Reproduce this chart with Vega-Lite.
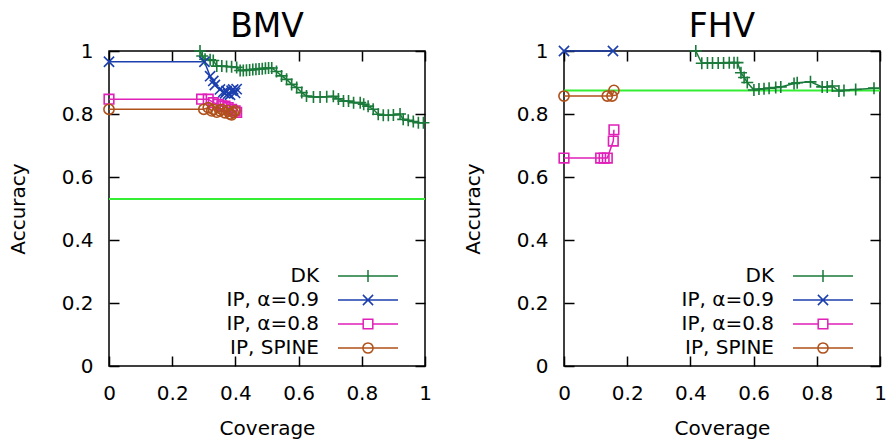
{
  "$schema": "https://vega.github.io/schema/vega-lite/v6.json",
  "background": "white",
  "padding": {"left": 7, "top": 10, "right": 3, "bottom": 5},
  "spacing": 28,
  "resolve": {"scale": {"color": "independent"}},
  "config": {
    "view": {"stroke": "black", "strokeWidth": 1.5},
    "font": "DejaVu Sans",
    "title": {"font": "DejaVu Sans", "fontSize": 33, "fontWeight": "normal", "color": "black", "anchor": "middle", "offset": -3, "baseline": "alphabetic"},
    "axis": {"labelFont": "DejaVu Sans", "labelFontSize": 20, "titleFont": "DejaVu Sans", "titleFontSize": 20, "titleFontWeight": "normal", "labelColor": "black", "titleColor": "black", "tickColor": "black", "tickWidth": 1.5, "tickSize": -10, "domain": false, "grid": false, "labelFlush": false, "labelOverlap": false},
    "legend": {"labelFont": "DejaVu Sans", "labelFontSize": 20, "labelColor": "black", "symbolSize": 144, "symbolStrokeWidth": 1.5, "rowPadding": 4, "padding": 0, "labelAlign": "right", "labelOffset": -59, "titlePadding": 0}
  },
  "datasets": {
    "pts": [
      {"p":"BMV","s":"DK","o":1,"x":0.288,"y":1.0},
      {"p":"BMV","s":"DK","o":2,"x":0.295,"y":0.984},
      {"p":"BMV","s":"DK","o":3,"x":0.304,"y":0.974},
      {"p":"BMV","s":"DK","o":4,"x":0.32,"y":0.972},
      {"p":"BMV","s":"DK","o":5,"x":0.33,"y":0.97},
      {"p":"BMV","s":"DK","o":6,"x":0.341,"y":0.952},
      {"p":"BMV","s":"DK","o":7,"x":0.357,"y":0.952},
      {"p":"BMV","s":"DK","o":8,"x":0.372,"y":0.951},
      {"p":"BMV","s":"DK","o":9,"x":0.388,"y":0.95},
      {"p":"BMV","s":"DK","o":10,"x":0.404,"y":0.948},
      {"p":"BMV","s":"DK","o":11,"x":0.415,"y":0.938},
      {"p":"BMV","s":"DK","o":12,"x":0.425,"y":0.938},
      {"p":"BMV","s":"DK","o":13,"x":0.435,"y":0.939},
      {"p":"BMV","s":"DK","o":14,"x":0.445,"y":0.94},
      {"p":"BMV","s":"DK","o":15,"x":0.455,"y":0.941},
      {"p":"BMV","s":"DK","o":16,"x":0.465,"y":0.942},
      {"p":"BMV","s":"DK","o":17,"x":0.475,"y":0.943},
      {"p":"BMV","s":"DK","o":18,"x":0.485,"y":0.944},
      {"p":"BMV","s":"DK","o":19,"x":0.495,"y":0.945},
      {"p":"BMV","s":"DK","o":20,"x":0.505,"y":0.946},
      {"p":"BMV","s":"DK","o":21,"x":0.515,"y":0.946},
      {"p":"BMV","s":"DK","o":22,"x":0.53,"y":0.935},
      {"p":"BMV","s":"DK","o":23,"x":0.546,"y":0.921},
      {"p":"BMV","s":"DK","o":24,"x":0.562,"y":0.91},
      {"p":"BMV","s":"DK","o":25,"x":0.578,"y":0.894},
      {"p":"BMV","s":"DK","o":26,"x":0.594,"y":0.884},
      {"p":"BMV","s":"DK","o":27,"x":0.61,"y":0.868},
      {"p":"BMV","s":"DK","o":28,"x":0.625,"y":0.857},
      {"p":"BMV","s":"DK","o":29,"x":0.647,"y":0.854},
      {"p":"BMV","s":"DK","o":30,"x":0.668,"y":0.854},
      {"p":"BMV","s":"DK","o":31,"x":0.689,"y":0.855},
      {"p":"BMV","s":"DK","o":32,"x":0.71,"y":0.856},
      {"p":"BMV","s":"DK","o":33,"x":0.726,"y":0.848},
      {"p":"BMV","s":"DK","o":34,"x":0.742,"y":0.841},
      {"p":"BMV","s":"DK","o":35,"x":0.758,"y":0.841},
      {"p":"BMV","s":"DK","o":36,"x":0.774,"y":0.836},
      {"p":"BMV","s":"DK","o":37,"x":0.795,"y":0.836},
      {"p":"BMV","s":"DK","o":38,"x":0.806,"y":0.831},
      {"p":"BMV","s":"DK","o":39,"x":0.82,"y":0.825},
      {"p":"BMV","s":"DK","o":40,"x":0.836,"y":0.815},
      {"p":"BMV","s":"DK","o":41,"x":0.852,"y":0.799},
      {"p":"BMV","s":"DK","o":42,"x":0.868,"y":0.796},
      {"p":"BMV","s":"DK","o":43,"x":0.884,"y":0.796},
      {"p":"BMV","s":"DK","o":44,"x":0.9,"y":0.797},
      {"p":"BMV","s":"DK","o":45,"x":0.921,"y":0.8},
      {"p":"BMV","s":"DK","o":46,"x":0.931,"y":0.783},
      {"p":"BMV","s":"DK","o":47,"x":0.947,"y":0.78},
      {"p":"BMV","s":"DK","o":48,"x":0.963,"y":0.776},
      {"p":"BMV","s":"DK","o":49,"x":0.979,"y":0.772},
      {"p":"BMV","s":"DK","o":50,"x":0.995,"y":0.772},
      {"p":"BMV","s":"IP, α=0.9","o":1,"x":0.0,"y":0.966},
      {"p":"BMV","s":"IP, α=0.9","o":2,"x":0.302,"y":0.966},
      {"p":"BMV","s":"IP, α=0.9","o":3,"x":0.32,"y":0.92},
      {"p":"BMV","s":"IP, α=0.9","o":4,"x":0.33,"y":0.905},
      {"p":"BMV","s":"IP, α=0.9","o":5,"x":0.335,"y":0.892},
      {"p":"BMV","s":"IP, α=0.9","o":6,"x":0.351,"y":0.878},
      {"p":"BMV","s":"IP, α=0.9","o":7,"x":0.362,"y":0.87},
      {"p":"BMV","s":"IP, α=0.9","o":8,"x":0.367,"y":0.866},
      {"p":"BMV","s":"IP, α=0.9","o":9,"x":0.372,"y":0.873},
      {"p":"BMV","s":"IP, α=0.9","o":10,"x":0.377,"y":0.864},
      {"p":"BMV","s":"IP, α=0.9","o":11,"x":0.383,"y":0.861},
      {"p":"BMV","s":"IP, α=0.9","o":12,"x":0.388,"y":0.874},
      {"p":"BMV","s":"IP, α=0.9","o":13,"x":0.393,"y":0.878},
      {"p":"BMV","s":"IP, α=0.9","o":14,"x":0.399,"y":0.867},
      {"p":"BMV","s":"IP, α=0.9","o":15,"x":0.404,"y":0.879},
      {"p":"BMV","s":"IP, α=0.8","o":1,"x":0.0,"y":0.847},
      {"p":"BMV","s":"IP, α=0.8","o":2,"x":0.293,"y":0.847},
      {"p":"BMV","s":"IP, α=0.8","o":3,"x":0.314,"y":0.847},
      {"p":"BMV","s":"IP, α=0.8","o":4,"x":0.33,"y":0.836},
      {"p":"BMV","s":"IP, α=0.8","o":5,"x":0.346,"y":0.831},
      {"p":"BMV","s":"IP, α=0.8","o":6,"x":0.357,"y":0.826},
      {"p":"BMV","s":"IP, α=0.8","o":7,"x":0.367,"y":0.825},
      {"p":"BMV","s":"IP, α=0.8","o":8,"x":0.377,"y":0.82},
      {"p":"BMV","s":"IP, α=0.8","o":9,"x":0.388,"y":0.815},
      {"p":"BMV","s":"IP, α=0.8","o":10,"x":0.399,"y":0.81},
      {"p":"BMV","s":"IP, α=0.8","o":11,"x":0.404,"y":0.805},
      {"p":"BMV","s":"IP, SPINE","o":1,"x":0.0,"y":0.815},
      {"p":"BMV","s":"IP, SPINE","o":2,"x":0.3,"y":0.815},
      {"p":"BMV","s":"IP, SPINE","o":3,"x":0.314,"y":0.82},
      {"p":"BMV","s":"IP, SPINE","o":4,"x":0.325,"y":0.81},
      {"p":"BMV","s":"IP, SPINE","o":5,"x":0.33,"y":0.815},
      {"p":"BMV","s":"IP, SPINE","o":6,"x":0.341,"y":0.806},
      {"p":"BMV","s":"IP, SPINE","o":7,"x":0.351,"y":0.81},
      {"p":"BMV","s":"IP, SPINE","o":8,"x":0.357,"y":0.815},
      {"p":"BMV","s":"IP, SPINE","o":9,"x":0.367,"y":0.804},
      {"p":"BMV","s":"IP, SPINE","o":10,"x":0.377,"y":0.81},
      {"p":"BMV","s":"IP, SPINE","o":11,"x":0.383,"y":0.8},
      {"p":"BMV","s":"IP, SPINE","o":12,"x":0.388,"y":0.797},
      {"p":"BMV","s":"IP, SPINE","o":13,"x":0.393,"y":0.805},
      {"p":"BMV","s":"IP, SPINE","o":14,"x":0.399,"y":0.81},
      {"p":"FHV","s":"DK","o":1,"x":0.417,"y":1.0},
      {"p":"FHV","s":"DK","o":2,"x":0.436,"y":0.961},
      {"p":"FHV","s":"DK","o":3,"x":0.454,"y":0.962},
      {"p":"FHV","s":"DK","o":4,"x":0.47,"y":0.962},
      {"p":"FHV","s":"DK","o":5,"x":0.488,"y":0.962},
      {"p":"FHV","s":"DK","o":6,"x":0.505,"y":0.962},
      {"p":"FHV","s":"DK","o":7,"x":0.523,"y":0.963},
      {"p":"FHV","s":"DK","o":8,"x":0.538,"y":0.963},
      {"p":"FHV","s":"DK","o":9,"x":0.549,"y":0.963},
      {"p":"FHV","s":"DK","o":10,"x":0.56,"y":0.931},
      {"p":"FHV","s":"DK","o":11,"x":0.57,"y":0.916},
      {"p":"FHV","s":"DK","o":12,"x":0.58,"y":0.9},
      {"p":"FHV","s":"DK","o":13,"x":0.601,"y":0.876},
      {"p":"FHV","s":"DK","o":14,"x":0.617,"y":0.879},
      {"p":"FHV","s":"DK","o":15,"x":0.633,"y":0.88},
      {"p":"FHV","s":"DK","o":16,"x":0.649,"y":0.882},
      {"p":"FHV","s":"DK","o":17,"x":0.67,"y":0.884},
      {"p":"FHV","s":"DK","o":18,"x":0.686,"y":0.886},
      {"p":"FHV","s":"DK","o":19,"x":0.728,"y":0.897},
      {"p":"FHV","s":"DK","o":20,"x":0.738,"y":0.899},
      {"p":"FHV","s":"DK","o":21,"x":0.78,"y":0.902},
      {"p":"FHV","s":"DK","o":22,"x":0.817,"y":0.886},
      {"p":"FHV","s":"DK","o":23,"x":0.833,"y":0.886},
      {"p":"FHV","s":"DK","o":24,"x":0.849,"y":0.889},
      {"p":"FHV","s":"DK","o":25,"x":0.87,"y":0.873},
      {"p":"FHV","s":"DK","o":26,"x":0.886,"y":0.875},
      {"p":"FHV","s":"DK","o":27,"x":0.923,"y":0.878},
      {"p":"FHV","s":"DK","o":28,"x":0.981,"y":0.882},
      {"p":"FHV","s":"IP, α=0.9","o":1,"x":0.0,"y":1.0},
      {"p":"FHV","s":"IP, α=0.9","o":2,"x":0.155,"y":1.0},
      {"p":"FHV","s":"IP, α=0.8","o":1,"x":0.0,"y":0.66},
      {"p":"FHV","s":"IP, α=0.8","o":2,"x":0.116,"y":0.66},
      {"p":"FHV","s":"IP, α=0.8","o":3,"x":0.127,"y":0.66},
      {"p":"FHV","s":"IP, α=0.8","o":4,"x":0.137,"y":0.66},
      {"p":"FHV","s":"IP, α=0.8","o":5,"x":0.156,"y":0.714},
      {"p":"FHV","s":"IP, α=0.8","o":6,"x":0.158,"y":0.75},
      {"p":"FHV","s":"IP, SPINE","o":1,"x":0.0,"y":0.857},
      {"p":"FHV","s":"IP, SPINE","o":2,"x":0.137,"y":0.857},
      {"p":"FHV","s":"IP, SPINE","o":3,"x":0.152,"y":0.857},
      {"p":"FHV","s":"IP, SPINE","o":4,"x":0.158,"y":0.875}
    ],
    "base": [
      {"p":"BMV","y":0.53},
      {"p":"FHV","y":0.875}
    ]
  },
  "hconcat": [
    {
      "title": "BMV",
      "width": 316,
      "height": 315,
      "resolve": {"scale": {"shape": "independent", "color": "independent"}},
      "layer": [
        {
          "data": {"name": "base"},
          "transform": [{"filter": "datum.p === 'BMV'"}],
          "mark": {"type": "rule", "color": "#33ee33", "strokeWidth": 2},
          "encoding": {
            "y": {"field": "y", "type": "quantitative", "scale": {"domain": [0, 1], "nice": false}, "axis": {"orient": "right", "labels": false, "title": null, "values": [0, 0.2, 0.4, 0.6, 0.8, 1]}}
          }
        },
        {
          "data": {"name": "pts"},
          "transform": [{"filter": "datum.p === 'BMV'"}],
          "mark": {"type": "line", "strokeWidth": 1.5},
          "encoding": {
            "x": {"field": "x", "type": "quantitative", "scale": {"domain": [0, 1], "nice": false}, "axis": {"orient": "bottom", "title": "Coverage", "values": [0, 0.2, 0.4, 0.6, 0.8, 1], "format": ".1~f", "labelPadding": 27, "titlePadding": 15}},
            "y": {"field": "y", "type": "quantitative", "scale": {"domain": [0, 1], "nice": false}, "axis": {"orient": "left", "title": "Accuracy", "values": [0, 0.2, 0.4, 0.6, 0.8, 1], "format": ".1~f", "labelPadding": 26, "titlePadding": 33}},
            "order": {"field": "o", "type": "quantitative"},
            "color": {"field": "s", "type": "nominal", "scale": {"domain": ["DK", "IP, α=0.9", "IP, α=0.8", "IP, SPINE"], "range": ["#1a7a3a", "#1c3fae", "#e020b8", "#b0501a"]}, "legend": null}
          }
        },
        {
          "data": {"name": "pts"},
          "transform": [{"filter": "datum.p === 'BMV'"}],
          "mark": {"type": "point", "filled": false, "size": 144, "strokeWidth": 1.6, "opacity": 1},
          "encoding": {
            "x": {"field": "x", "type": "quantitative", "scale": {"domain": [0, 1], "nice": false}, "axis": {"orient": "top", "labels": false, "title": null, "values": [0, 0.2, 0.4, 0.6, 0.8, 1]}},
            "y": {"field": "y", "type": "quantitative", "scale": {"domain": [0, 1], "nice": false}, "axis": null},
            "color": {"field": "s", "type": "nominal", "scale": {"domain": ["DK", "IP, α=0.9", "IP, α=0.8", "IP, SPINE"], "range": ["#1a7a3a", "#1c3fae", "#e020b8", "#b0501a"]}, "legend": null},
            "shape": {"field": "s", "type": "nominal", "scale": {"domain": ["DK", "IP, α=0.9", "IP, α=0.8", "IP, SPINE"], "range": ["M-1,0H1M0,-1V1", "M-0.85,-0.85L0.85,0.85M-0.85,0.85L0.85,-0.85", "M-0.8,-0.8H0.8V0.8H-0.8Z", "M-0.85,0A0.85,0.85 0 1,0 0.85,0A0.85,0.85 0 1,0 -0.85,0"]}, "legend": null}
          }
        },
        {
          "data": {"name": "pts"},
          "transform": [{"filter": "datum.p === 'BMV'"}],
          "mark": {"type": "point", "filled": false, "size": 0.01, "strokeWidth": 0.01, "opacity": 1},
          "encoding": {
            "x": {"field": "x", "type": "quantitative", "scale": {"domain": [0, 1], "nice": false}, "axis": null},
            "y": {"field": "y", "type": "quantitative", "scale": {"domain": [0, 1], "nice": false}, "axis": null},
            "color": {"field": "s", "type": "nominal", "scale": {"domain": ["DK", "IP, α=0.9", "IP, α=0.8", "IP, SPINE"], "range": ["#1a7a3a", "#1c3fae", "#e020b8", "#b0501a"]},
              "legend": {"title": null, "orient": "none", "legendX": 249, "legendY": 215}},
            "shape": {"field": "s", "type": "nominal", "scale": {"domain": ["DK", "IP, α=0.9", "IP, α=0.8", "IP, SPINE"], "range": ["M-5,0H5M0,-1V1", "M-5,0H5M-0.85,-0.85L0.85,0.85M-0.85,0.85L0.85,-0.85", "M-5,0H-0.8M0.8,0H5M-0.8,-0.8H0.8V0.8H-0.8Z", "M-5,0H5M-0.85,0A0.85,0.85 0 1,0 0.85,0A0.85,0.85 0 1,0 -0.85,0"]},
              "legend": {"title": null, "orient": "none", "legendX": 249, "legendY": 215}}
          }
        }
      ]
    },
    {
      "title": "FHV",
      "width": 316,
      "height": 315,
      "resolve": {"scale": {"shape": "independent", "color": "independent"}},
      "layer": [
        {
          "data": {"name": "base"},
          "transform": [{"filter": "datum.p === 'FHV'"}],
          "mark": {"type": "rule", "color": "#33ee33", "strokeWidth": 2},
          "encoding": {
            "y": {"field": "y", "type": "quantitative", "scale": {"domain": [0, 1], "nice": false}, "axis": {"orient": "right", "labels": false, "title": null, "values": [0, 0.2, 0.4, 0.6, 0.8, 1]}}
          }
        },
        {
          "data": {"name": "pts"},
          "transform": [{"filter": "datum.p === 'FHV'"}],
          "mark": {"type": "line", "strokeWidth": 1.5},
          "encoding": {
            "x": {"field": "x", "type": "quantitative", "scale": {"domain": [0, 1], "nice": false}, "axis": {"orient": "bottom", "title": "Coverage", "values": [0, 0.2, 0.4, 0.6, 0.8, 1], "format": ".1~f", "labelPadding": 27, "titlePadding": 15}},
            "y": {"field": "y", "type": "quantitative", "scale": {"domain": [0, 1], "nice": false}, "axis": {"orient": "left", "title": "Accuracy", "values": [0, 0.2, 0.4, 0.6, 0.8, 1], "format": ".1~f", "labelPadding": 26, "titlePadding": 33}},
            "order": {"field": "o", "type": "quantitative"},
            "color": {"field": "s", "type": "nominal", "scale": {"domain": ["DK", "IP, α=0.9", "IP, α=0.8", "IP, SPINE"], "range": ["#1a7a3a", "#1c3fae", "#e020b8", "#b0501a"]}, "legend": null}
          }
        },
        {
          "data": {"name": "pts"},
          "transform": [{"filter": "datum.p === 'FHV'"}],
          "mark": {"type": "point", "filled": false, "size": 144, "strokeWidth": 1.6, "opacity": 1},
          "encoding": {
            "x": {"field": "x", "type": "quantitative", "scale": {"domain": [0, 1], "nice": false}, "axis": {"orient": "top", "labels": false, "title": null, "values": [0, 0.2, 0.4, 0.6, 0.8, 1]}},
            "y": {"field": "y", "type": "quantitative", "scale": {"domain": [0, 1], "nice": false}, "axis": null},
            "color": {"field": "s", "type": "nominal", "scale": {"domain": ["DK", "IP, α=0.9", "IP, α=0.8", "IP, SPINE"], "range": ["#1a7a3a", "#1c3fae", "#e020b8", "#b0501a"]}, "legend": null},
            "shape": {"field": "s", "type": "nominal", "scale": {"domain": ["DK", "IP, α=0.9", "IP, α=0.8", "IP, SPINE"], "range": ["M-1,0H1M0,-1V1", "M-0.85,-0.85L0.85,0.85M-0.85,0.85L0.85,-0.85", "M-0.8,-0.8H0.8V0.8H-0.8Z", "M-0.85,0A0.85,0.85 0 1,0 0.85,0A0.85,0.85 0 1,0 -0.85,0"]}, "legend": null}
          }
        },
        {
          "data": {"name": "pts"},
          "transform": [{"filter": "datum.p === 'FHV'"}],
          "mark": {"type": "point", "filled": false, "size": 0.01, "strokeWidth": 0.01, "opacity": 1},
          "encoding": {
            "x": {"field": "x", "type": "quantitative", "scale": {"domain": [0, 1], "nice": false}, "axis": null},
            "y": {"field": "y", "type": "quantitative", "scale": {"domain": [0, 1], "nice": false}, "axis": null},
            "color": {"field": "s", "type": "nominal", "scale": {"domain": ["DK", "IP, α=0.9", "IP, α=0.8", "IP, SPINE"], "range": ["#1a7a3a", "#1c3fae", "#e020b8", "#b0501a"]},
              "legend": {"title": null, "orient": "none", "legendX": 249, "legendY": 215}},
            "shape": {"field": "s", "type": "nominal", "scale": {"domain": ["DK", "IP, α=0.9", "IP, α=0.8", "IP, SPINE"], "range": ["M-5,0H5M0,-1V1", "M-5,0H5M-0.85,-0.85L0.85,0.85M-0.85,0.85L0.85,-0.85", "M-5,0H-0.8M0.8,0H5M-0.8,-0.8H0.8V0.8H-0.8Z", "M-5,0H5M-0.85,0A0.85,0.85 0 1,0 0.85,0A0.85,0.85 0 1,0 -0.85,0"]},
              "legend": {"title": null, "orient": "none", "legendX": 249, "legendY": 215}}
          }
        }
      ]
    }
  ]
}
